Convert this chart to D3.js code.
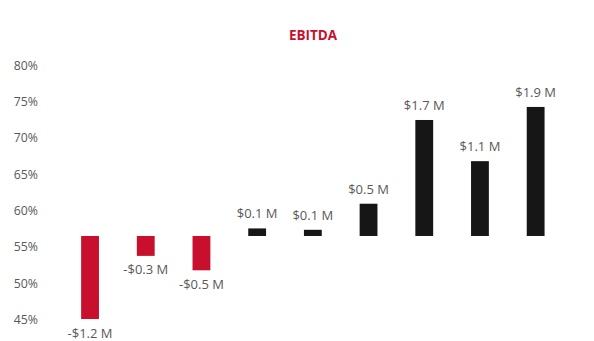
<!DOCTYPE html>
<html><head><meta charset="utf-8">
<script src="https://cdn.jsdelivr.net/npm/d3@7"></script>
<style>body{margin:0;background:#fff}svg{display:block}</style>
</head><body><svg id="c" width="594" height="341"></svg>
<script>
const categories = ["P1","P2","P3","P4","P5","P6","P7","P8","P9"];
const values = [-1.21, -0.29, -0.5, 0.11, 0.09, 0.47, 1.69, 1.09, 1.88];
const labels = ["-$1.2 M","-$0.3 M","-$0.5 M","$0.1 M","$0.1 M","$0.5 M","$1.7 M","$1.1 M","$1.9 M"];
const yTicks = [45,50,55,60,65,70,75,80];
const basePct = 56.5;      // percent level where bars start
const pctPerM = 9.45;      // percent units per $1M

const svg = d3.select("#c");
const font = "'Open Sans', sans-serif";
const y = d3.scaleLinear().domain([45,80]).range([319.5,65.3]);
const yM = d3.scaleLinear().domain([0,1]).range([y(basePct), y(basePct+pctPerM)]);
const x = d3.scaleBand().domain(categories).range([62.2,563.5]).paddingInner(0.68).paddingOuter(0.34);

svg.append("text").attr("x",313).attr("y",40).attr("text-anchor","middle")
  .attr("font-family",font).attr("font-weight","bold").attr("font-size",13.5)
  .attr("fill","#C8102E").text("EBITDA");

const ax = svg.append("g").attr("transform","translate(38,0)")
  .call(d3.axisLeft(y).tickValues(yTicks).tickSize(0).tickPadding(0).tickFormat(d=>d+"%"));
ax.select(".domain").remove();
ax.selectAll("text").attr("font-family",font).attr("font-size",12.3).attr("fill","#595959");

svg.selectAll("rect.bar").data(values).enter().append("rect").attr("class","bar")
  .attr("x",(d,i)=>x(categories[i]))
  .attr("width",x.bandwidth())
  .attr("y",d=>Math.min(yM(0),yM(d)))
  .attr("height",d=>Math.abs(yM(d)-yM(0)))
  .attr("fill",d=>d<0?"#C8102E":"#161616");

svg.selectAll("text.lbl").data(values).enter().append("text").attr("class","lbl")
  .attr("x",(d,i)=>x(categories[i])+x.bandwidth()/2)
  .attr("y",d=>d<0? yM(d)+18.5 : yM(d)-10)
  .attr("text-anchor","middle")
  .attr("font-family",font).attr("font-size",13).attr("fill","#595959")
  .text((d,i)=>labels[i]);
</script></body></html>
